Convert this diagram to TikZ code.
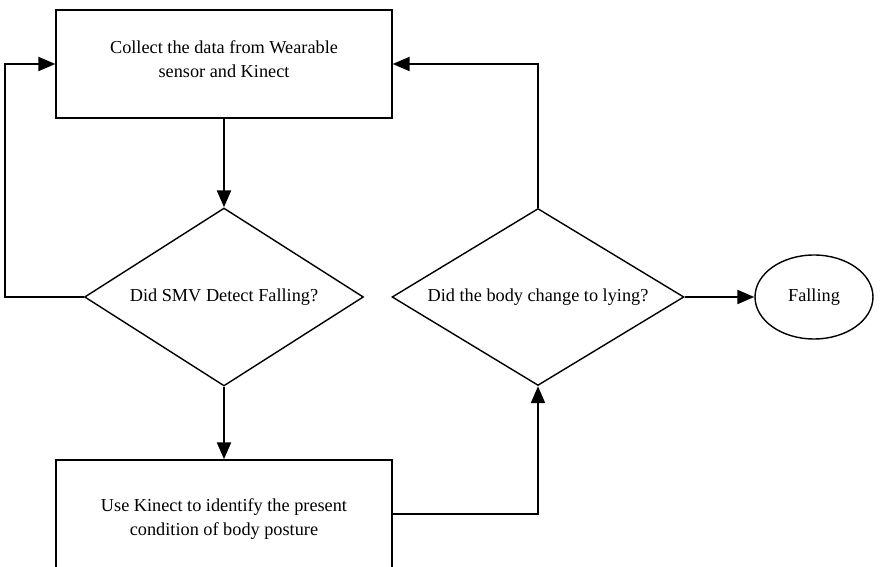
\documentclass[tikz,border=0pt]{standalone}
\usepackage{fontspec}
\setmainfont{Liberation Serif}
\usetikzlibrary{shapes.geometric}
\usetikzlibrary{arrows.meta}

\begin{document}
\begin{tikzpicture}[x=0.02cm, y=-0.02cm,
		font=\fontsize{10.4}{13.6}\selectfont,
		procbox/.style={draw, line width=0.8pt, minimum width=6.72cm, minimum height=2.16cm, inner sep=0pt, align=center},
		decision/.style={draw, diamond, line width=0.8pt, inner sep=0pt, align=center},
		terminal/.style={draw, ellipse, line width=0.8pt, minimum width=2.36cm, minimum height=1.68cm, inner sep=0pt},
		flow/.style={line width=1.3pt, -{Triangle[length=3.4mm, width=2.8mm]}}]
		% ---- Page frame ----
		\useasboundingbox (0,0) rectangle (880,567);
		
		% ---- Process boxes ----
		\node[procbox, text depth=0.2cm] (collect) at (224,64) {Collect the data from Wearable\\sensor and Kinect};
		\node[procbox, text height=0.94cm] (kinect) at (224,514) {Use Kinect to identify the present\\condition of body posture};
		
		% ---- Decisions ----
		\node[decision, aspect=1.57, minimum width=5.58cm, minimum height=3.56cm] (smv) at (224,297) {Did SMV Detect Falling?};
		\node[decision, aspect=1.65, minimum width=5.84cm, minimum height=3.54cm] (lying) at (538,297) {Did the body change to lying?};
		
		% ---- End state ----
		\node[terminal] (fall) at (814,297) {Falling};
		
		% ---- Loop corner on the left ----
		\coordinate (back) at (5,297);
		
		% ---- Connectors ----
		\draw[flow] (collect.south) -- (smv.north);
		\draw[flow] (smv.south) -- (kinect.north);
		\draw[flow] (smv.west) -- (back) |- (collect.west);
		\draw[flow] (kinect.east) -| (lying.south);
		\draw[flow] (lying.north) |- (collect.east);
		\draw[flow] (lying.east) -- (fall.west);
		
	\end{tikzpicture}
\end{document}
